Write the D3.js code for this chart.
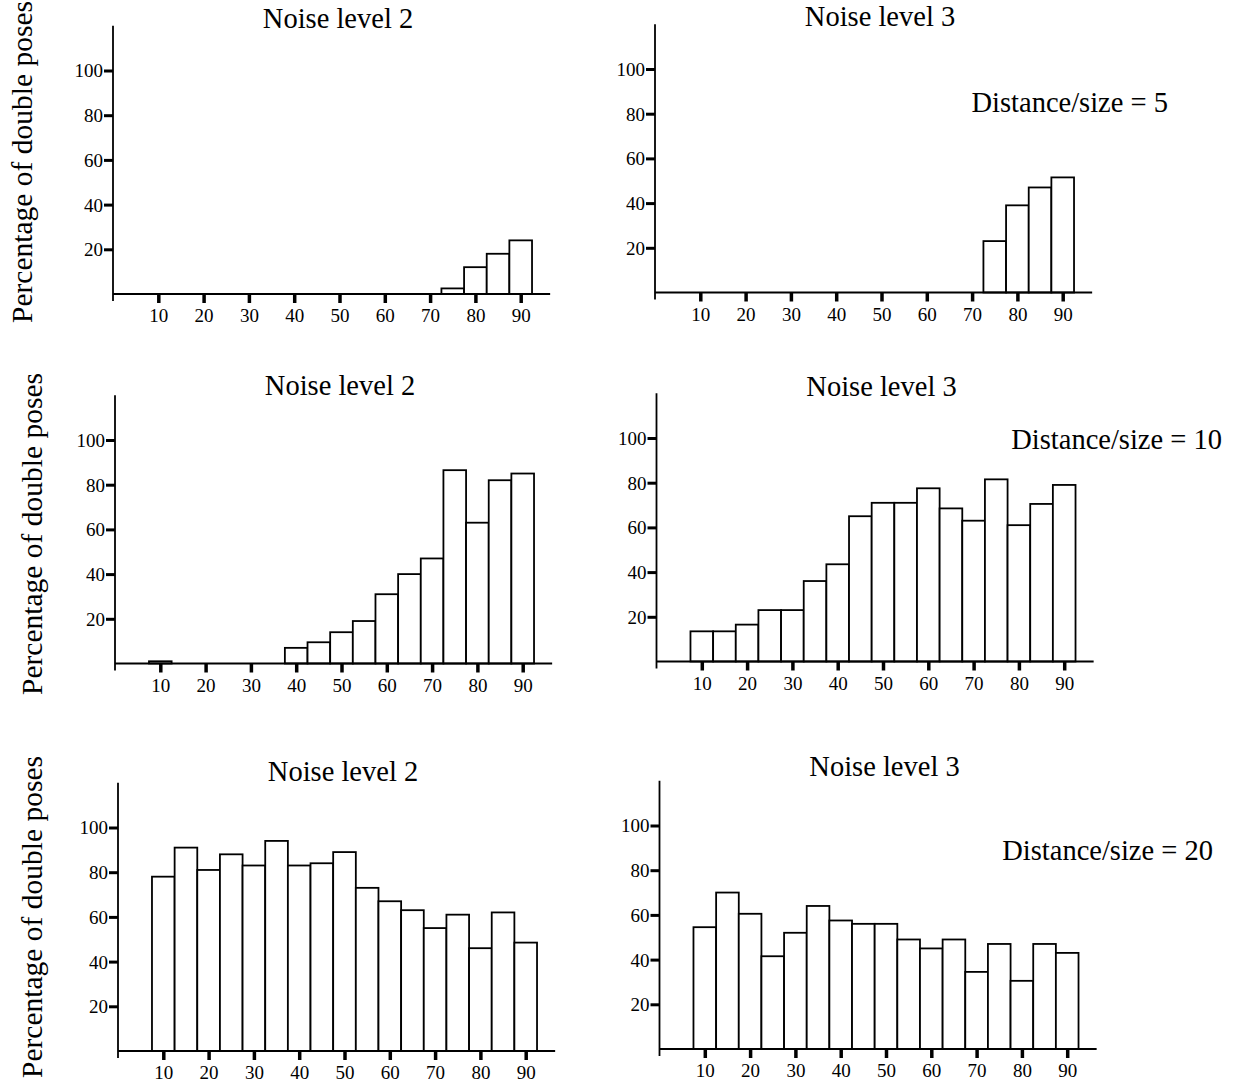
<!DOCTYPE html>
<html>
<head>
<meta charset="utf-8">
<script src="https://cdn.jsdelivr.net/npm/d3@7"></script>
<style>
  body { margin: 0; background: #fff; }
  text { font-family: "Liberation Serif", "DejaVu Serif", serif; fill: #000; }
</style>
</head>
<body>
<svg id="chart" width="1236" height="1082"></svg>
<script>
// bin centres (degrees) and tick labels
const binCenters = [10, 15, 20, 25, 30, 35, 40, 45, 50, 55, 60, 65, 70, 75, 80, 85, 90];
const xTickValues = [10, 20, 30, 40, 50, 60, 70, 80, 90];
const yTickValues = [20, 40, 60, 80, 100];
const titles = ["Noise level 2", "Noise level 3"];
const distanceLabels = ["Distance/size = 5", "Distance/size = 10", "Distance/size = 20"];
const yLabel = "Percentage of double poses";

// percentage of double poses per bin
const noise2Dist5  = [0, 0, 0, 0, 0, 0, 0, 0, 0, 0, 0, 0, 0, 2.5, 12, 18, 24];
const noise3Dist5  = [0, 0, 0, 0, 0, 0, 0, 0, 0, 0, 0, 0, 0, 23, 39, 47, 51.5];
const noise2Dist10 = [1, 0, 0, 0, 0, 0, 7, 9.5, 14, 19, 31, 40, 47, 86.5, 63, 82, 85];
const noise3Dist10 = [13.5, 13.5, 16.5, 23, 23, 36, 43.5, 65, 71, 71, 77.5, 68.5, 63, 81.5, 61, 70.5, 79];
const noise2Dist20 = [78, 91, 81, 88, 83, 94, 83, 84, 89, 73, 67, 63, 55, 61, 46, 62, 48.5];
const noise3Dist20 = [54.5, 70, 60.5, 41.5, 52, 64, 57.5, 56, 56, 49, 45, 49, 34.5, 47, 30.5, 47, 43];

// panel placement: left = y axis x, base = y of value 0
const panels = [
  { values: noise2Dist5,  left: 113, base: 294,  title: 0, titleY: 28 },
  { values: noise3Dist5,  left: 655, base: 292.5, title: 1, titleY: 26 },
  { values: noise2Dist10, left: 115, base: 663.5, title: 0, titleY: 395 },
  { values: noise3Dist10, left: 656.5, base: 661.5, title: 1, titleY: 396 },
  { values: noise2Dist20, left: 118, base: 1051, title: 0, titleY: 781 },
  { values: noise3Dist20, left: 659.5, base: 1049, title: 1, titleY: 776 }
];
const distPos = [
  { x: 1168, y: 112 },
  { x: 1222, y: 449 },
  { x: 1213, y: 860 }
];
const yLabelPos = [
  { x: 32, y: 162 },
  { x: 42, y: 534 },
  { x: 42, y: 917 }
];

const svg = d3.select("#chart");
const xUnit = 4.53, yUnit = 2.235;
const xMax = 96.5, yMax = 120;

panels.forEach(function(p) {
  const x = d3.scaleLinear().domain([0, xMax]).range([p.left, p.left + xMax * xUnit]);
  const y = d3.scaleLinear().domain([0, yMax]).range([p.base, p.base - yMax * yUnit]);
  const g = svg.append("g");

  // bars
  g.selectAll("rect")
    .data(p.values.map(function(v, i) { return { c: binCenters[i], v: v }; }).filter(function(d) { return d.v > 0; }))
    .enter()
    .append("rect")
    .attr("x", function(d) { return x(d.c - 2.5); })
    .attr("width", function(d) { return x(d.c + 2.5) - x(d.c - 2.5); })
    .attr("y", function(d) { return y(d.v); })
    .attr("height", function(d) { return y(0) - y(d.v); })
    .attr("fill", "#fff")
    .attr("stroke", "#000")
    .attr("stroke-width", 1.8);

  // axis lines
  g.append("line")
    .attr("x1", x(0)).attr("x2", x(0))
    .attr("y1", y(yMax)).attr("y2", y(0) + 7)
    .attr("stroke", "#000").attr("stroke-width", 1.8);
  g.append("line")
    .attr("x1", x(0)).attr("x2", x(xMax))
    .attr("y1", y(0)).attr("y2", y(0))
    .attr("stroke", "#000").attr("stroke-width", 1.8);

  // y ticks
  const yAxis = g.append("g")
    .attr("transform", "translate(" + x(0) + ",0)")
    .call(d3.axisLeft(y).tickValues(yTickValues).tickSize(9).tickPadding(1));
  yAxis.select(".domain").remove();
  yAxis.selectAll(".tick line").attr("stroke-width", 3);
  yAxis.selectAll(".tick text").attr("font-size", 19).attr("font-family", "Liberation Serif").attr("dy", "0.34em");

  // x ticks
  const xAxis = g.append("g")
    .attr("transform", "translate(0," + y(0) + ")")
    .call(d3.axisBottom(x).tickValues(xTickValues).tickSize(9).tickPadding(6));
  xAxis.select(".domain").remove();
  xAxis.selectAll(".tick line").attr("stroke-width", 3.5);
  xAxis.selectAll(".tick text").attr("font-size", 19).attr("font-family", "Liberation Serif");

  // title
  g.append("text")
    .attr("x", x(0) + 225)
    .attr("y", p.titleY)
    .attr("text-anchor", "middle")
    .attr("font-size", 28.5)
    .text(titles[p.title]);
});

distanceLabels.forEach(function(t, i) {
  svg.append("text")
    .attr("x", distPos[i].x)
    .attr("y", distPos[i].y)
    .attr("text-anchor", "end")
    .attr("font-size", 28.5)
    .text(t);
});

yLabelPos.forEach(function(p) {
  svg.append("text")
    .attr("transform", "translate(" + p.x + "," + p.y + ") rotate(-90)")
    .attr("text-anchor", "middle")
    .attr("font-size", 29.5)
    .text(yLabel);
});
</script>
</body>
</html>
